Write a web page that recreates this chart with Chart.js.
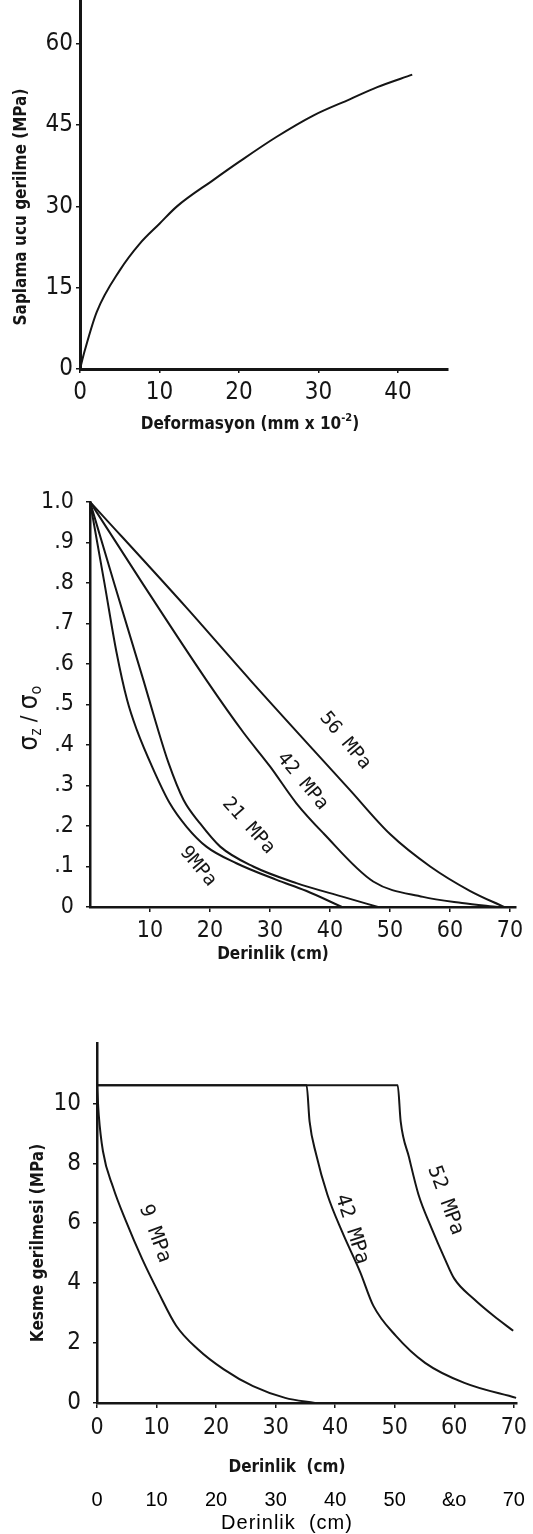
<!DOCTYPE html>
<html>
<head>
<meta charset="utf-8">
<script src="https://cdn.jsdelivr.net/npm/chart.js@4.4.1/dist/chart.umd.min.js"></script>
<style>
  html, body { margin: 0; padding: 0; background: #fff; }
  body { width: 533px; height: 1534px; position: relative; overflow: hidden; }
  canvas { position: absolute; left: 0; }
  #deformasyon { top: -17px; }
  #derinlik { top: 476px; }
  #kesme { top: 1017px; }
</style>
</head>
<body>
<canvas id="deformasyon" width="533" height="467"></canvas>
<canvas id="derinlik" width="533" height="514"></canvas>
<canvas id="kesme" width="533" height="517"></canvas>
<script>
// Grafik 1: saplama ucu gerilme - deformasyon
const deformasyon = [0, 0.6, 2.1, 5, 7.5, 10, 12.2, 16.8, 20.1, 24.7, 29.4, 34, 37.4, 41.8];
const ucGerilme = [0, 3.4, 10.5, 18.2, 23.1, 26.8, 30, 34.9, 38.3, 42.8, 46.8, 49.8, 52, 54.3];
const defTicks = [0, 10, 20, 30, 40];
const gerilmeTicks = [0, 15, 30, 45, 60];

// Grafik 2: sigma_z / sigma_o - derinlik
const d9 = [0, 2.4, 4.4, 6.2, 7.8, 10.6, 13.3, 16.1, 19.4, 24.4, 31.1, 36, 42];
const r9 = [1, 0.8, 0.63, 0.51, 0.437, 0.338, 0.256, 0.198, 0.149, 0.108, 0.067, 0.04, 0];
const d21 = [0, 4, 8.9, 11, 13.1, 15.6, 18.3, 21.7, 27.2, 34.4, 42.2, 48];
const r21 = [1, 0.8, 0.56, 0.454, 0.355, 0.264, 0.207, 0.149, 0.1, 0.059, 0.025, 0];
const d42 = [0, 8.7, 19.4, 25.6, 30, 34.4, 38.9, 47.2, 55.5, 62, 68];
const r42 = [1, 0.8, 0.56, 0.43, 0.347, 0.256, 0.182, 0.063, 0.025, 0.01, 0];
const d56 = [0, 16, 26.7, 43.3, 50, 56.7, 63.3, 69];
const r56 = [1, 0.74, 0.56, 0.289, 0.18, 0.1, 0.04, 0];
const oranTicks = [0, 0.1, 0.2, 0.3, 0.4, 0.5, 0.6, 0.7, 0.8, 0.9, 1.0];
const oranText = ["0", ".1", ".2", ".3", ".4", ".5", ".6", ".7", ".8", ".9", "1.0"];
const derinTicks2 = [10, 20, 30, 40, 50, 60, 70];

// Grafik 3: kesme gerilmesi - derinlik
const k9x = [0, 0.3, 1, 2.7, 4.9, 7.6, 10.3, 13.3, 16.9, 21.3, 26.2, 31.6, 36.6];
const k9y = [10.6, 9.6, 8.4, 7.2, 6.05, 4.8, 3.7, 2.58, 1.8, 1.12, 0.56, 0.17, 0];
const k42x = [0, 35.2, 35.7, 36.8, 38.7, 41.2, 44.2, 46.4, 50.2, 55.1, 61.7, 70.4];
const k42y = [10.6, 10.6, 9.4, 8.3, 6.95, 5.7, 4.37, 3.25, 2.24, 1.34, 0.67, 0.17];
const k52x = [0, 50.5, 51, 52.4, 54, 56.2, 58.4, 60, 63.3, 66.6, 69.9];
const k52y = [10.6, 10.6, 9.4, 8.2, 6.95, 5.83, 4.82, 4.15, 3.47, 2.91, 2.41];
const kesmeTicks = [0, 2, 4, 6, 8, 10];
const derinTicks3 = [0, 10, 20, 30, 40, 50, 60, 70];
const derinText3 = ["0", "10", "20", "30", "40", "50", "&o", "70"];

const ink = "#151515";
const scanFont = "'DejaVu Sans Condensed', 'DejaVu Sans', sans-serif";
const letterFont = "'DejaVu Sans Mono', monospace";
const plainFont = "'Liberation Sans', Arial, sans-serif";

Chart.defaults.font.family = scanFont;
Chart.defaults.color = ink;
Chart.defaults.animation = false;
Chart.defaults.plugins.legend.display = false;
Chart.defaults.plugins.tooltip.enabled = false;

const pts = (xs, ys) => xs.map((x, i) => ({ x: x, y: ys[i] }));
const curve = (xs, ys) => ({
  data: pts(xs, ys), showLine: true, borderColor: ink, borderWidth: 2,
  pointRadius: 0, cubicInterpolationMode: "monotone"
});
const tickList = arr => s => { s.ticks = arr.map(v => ({ value: v })); };

// axis titles and curve names (raw options, pos in canvas px or at in data units)
const notes = {
  id: "notes",
  afterDraw(chart) {
    const ctx = chart.ctx;
    const items = chart.config.options.plugins.notes.items;
    items.forEach(it => {
      let x, y;
      if (it.at) {
        x = chart.scales.x.getPixelForValue(it.at[0]);
        y = chart.scales.y.getPixelForValue(it.at[1]);
      } else {
        x = it.pos[0];
        y = it.pos[1];
      }
      const parts = it.parts || [[it.text, it.size, 0]];
      const fontOf = p => (it.weight || "normal") + " " + (p[1] || it.size) + "px " + (it.family || scanFont);
      ctx.save();
      ctx.translate(x, y);
      ctx.rotate((it.rot || 0) * Math.PI / 180);
      ctx.fillStyle = it.color || ink;
      ctx.textBaseline = "middle";
      ctx.textAlign = "left";
      if (it.spacing) ctx.letterSpacing = it.spacing + "px";
      let w = 0;
      parts.forEach(p => { ctx.font = fontOf(p); w += ctx.measureText(p[0]).width; });
      let cx = -w / 2;
      parts.forEach(p => {
        ctx.font = fontOf(p);
        ctx.fillText(p[0], cx, p[2] || 0);
        cx += ctx.measureText(p[0]).width;
      });
      ctx.restore();
    });
  }
};

//Deformasyon
new Chart(document.getElementById("deformasyon"), {
  type: "scatter",
  data: { datasets: [curve(deformasyon, ucGerilme)] },
  options: {
    responsive: false,
    layout: { padding: { top: 0, right: 85, bottom: 0, left: 0 } },
    scales: {
      x: {
        type: "linear", min: 0, max: 46.3,
        afterBuildTicks: tickList(defTicks),
        afterFit: s => { s.height = 81; },
        border: { color: ink, width: 3 },
        grid: { drawOnChartArea: false, color: ink, lineWidth: 1.5, tickLength: 4 },
        ticks: { font: { size: 24 }, padding: 5, maxRotation: 0 }
      },
      y: {
        type: "linear", min: 0, max: 68,
        afterBuildTicks: tickList(gerilmeTicks),
        afterFit: s => { s.width = 80; },
        border: { color: ink, width: 3 },
        grid: { drawOnChartArea: false, color: ink, lineWidth: 1.5, tickLength: 4 },
        ticks: { font: { size: 24 }, padding: 3 }
      }
    },
    plugins: {
      notes: {
        items: [
          { text: "Saplama ucu gerilme (MPa)", pos: [22, 224], rot: -90, size: 17, weight: "bold" },
          { parts: [["Deformasyon (mm x 10", 17, 0], ["-2", 11, -7], [")", 17, 0]], pos: [250, 442], size: 17, weight: "bold" }
        ]
      }
    }
  },
  plugins: [notes]
});

//Derinlik - gerilme orani
new Chart(document.getElementById("derinlik"), {
  type: "scatter",
  data: { datasets: [curve(d9, r9), curve(d21, r21), curve(d42, r42), curve(d56, r56)] },
  options: {
    responsive: false,
    layout: { padding: { top: 0, right: 17, bottom: 0, left: 0 } },
    scales: {
      x: {
        type: "linear", min: 0, max: 71,
        afterBuildTicks: tickList(derinTicks2),
        afterFit: s => { s.height = 83; },
        border: { color: ink, width: 2.5 },
        grid: { drawOnChartArea: false, color: ink, lineWidth: 1.5, tickLength: 5 },
        ticks: { font: { size: 23 }, padding: 5, maxRotation: 0 }
      },
      y: {
        type: "linear", min: 0, max: 1,
        afterBuildTicks: tickList(oranTicks),
        afterFit: s => { s.width = 90; },
        border: { color: ink, width: 2.5 },
        grid: { drawOnChartArea: false, color: ink, lineWidth: 1.5, tickLength: 4 },
        ticks: { font: { size: 23 }, padding: 12, callback: (v, i) => oranText[i] }
      }
    },
    plugins: {
      notes: {
        items: [
          { parts: [["σ", 26, 0], ["z", 15, 7], [" / ", 22, 0], ["σ", 26, 0], ["o", 16, 7]], pos: [30, 242], rot: -90, size: 22 },
          { text: "Derinlik (cm)", pos: [273, 479], size: 17, weight: "bold" },
          { text: "56 MPa", at: [42.5, 0.41], rot: 50, size: 19, family: letterFont },
          { text: "42 MPa", at: [35.4, 0.31], rot: 50, size: 19, family: letterFont },
          { text: "21 MPa", at: [26.4, 0.2], rot: 48, size: 19, family: letterFont },
          { text: "9MPa", at: [18, 0.1], rot: 50, size: 19, family: letterFont }
        ]
      }
    }
  },
  plugins: [notes]
});

//Kesme gerilmesi
new Chart(document.getElementById("kesme"), {
  type: "scatter",
  data: { datasets: [curve(k9x, k9y), curve(k42x, k42y), curve(k52x, k52y)] },
  options: {
    responsive: false,
    layout: { padding: { top: 0, right: 6, bottom: 0, left: 0 } },
    scales: {
      x: {
        type: "linear", min: 0, max: 70.5,
        afterBuildTicks: tickList(derinTicks3),
        afterFit: s => { s.height = 82; },
        border: { color: ink, width: 2.5 },
        grid: { drawOnChartArea: false, color: ink, lineWidth: 1.5, tickLength: 5 },
        ticks: { font: { size: 23 }, padding: 6, maxRotation: 0 }
      },
      x2: {
        type: "linear", position: "bottom", min: 0, max: 70.5,
        afterBuildTicks: tickList(derinTicks3),
        afterFit: s => { s.height = 49; },
        border: { display: false },
        grid: { display: false, drawTicks: false },
        ticks: { font: { family: plainFont, size: 20 }, color: "#000", padding: 3, maxRotation: 0, callback: (v, i) => derinText3[i] }
      },
      y: {
        type: "linear", min: 0, max: 12,
        afterBuildTicks: tickList(kesmeTicks),
        afterFit: s => { s.width = 97; },
        border: { color: ink, width: 2.5 },
        grid: { drawOnChartArea: false, color: ink, lineWidth: 1.5, tickLength: 4 },
        ticks: { font: { size: 24 }, padding: 12 }
      }
    },
    plugins: {
      notes: {
        items: [
          { text: "Kesme gerilmesi (MPa)", pos: [39, 226], rot: -90, size: 17, weight: "bold" },
          { text: "Derinlik  (cm)", pos: [287, 451], size: 17, weight: "bold" },
          { text: "Derinlik  (cm)", pos: [287, 506], size: 20, family: plainFont, color: "#000", spacing: 1 },
          { text: "9 MPa", at: [9.7, 5.65], rot: 70, size: 20, family: letterFont },
          { text: "42 MPa", at: [42.8, 5.8], rot: 72, size: 20, family: letterFont },
          { text: "52 MPa", at: [58.5, 6.76], rot: 70, size: 20, family: letterFont }
        ]
      }
    }
  },
  plugins: [notes]
});
</script>
</body>
</html>
